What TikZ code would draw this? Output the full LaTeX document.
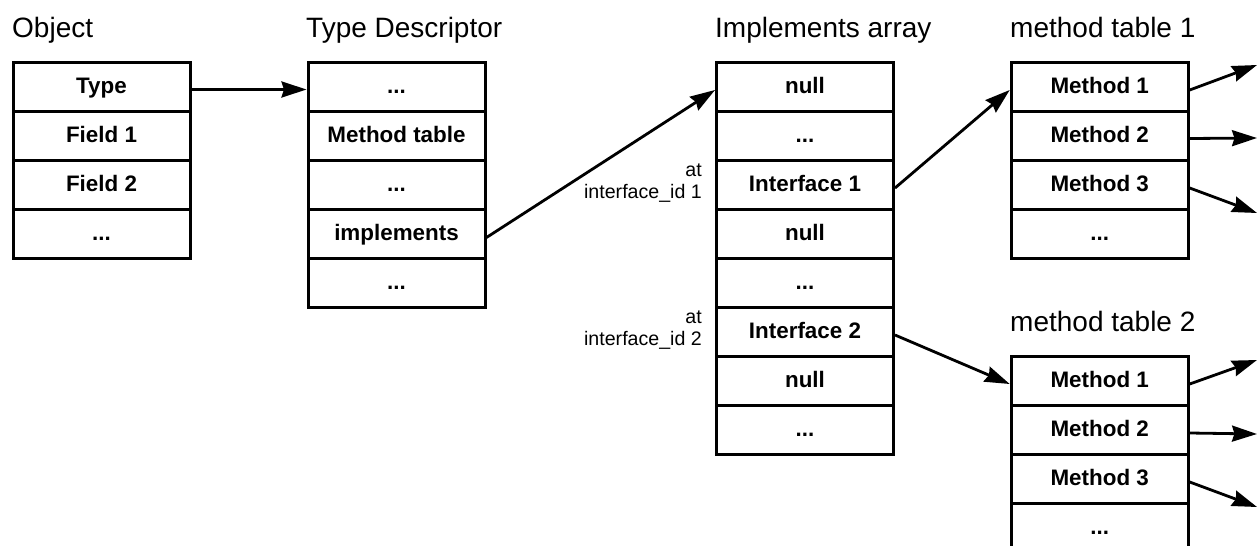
\documentclass[tikz,border=0pt]{standalone}
\usepackage{fontspec}
\setmainfont{Liberation Sans}
\usetikzlibrary{arrows.meta}
\begin{document}
\begin{tikzpicture}[x=1pt,y=-1pt,
 cell/.style={draw=black, line width=3pt, minimum width=177pt, minimum height=49pt, inner sep=0pt, text height=17pt, text depth=4pt, font=\fontsize{22.4}{26}\selectfont\bfseries},
 ttl/.style={anchor=base west, inner sep=0pt, font=\fontsize{28}{32}\selectfont},
 lbl/.style={anchor=base east, inner sep=0pt, font=\fontsize{19.6}{22}\selectfont},
 arr/.style={line width=2.8pt, -{Stealth[length=25pt,width=16pt,inset=2.5pt]}}]
\useasboundingbox (0,0) rectangle (1258,546);

% titles
\node[ttl] (tobj) at (12,37) {Object};
\node[ttl] (ttd) at (306,37) {Type Descriptor};
\node[ttl] (tia) at (715,37) {Implements array};
\node[ttl] (tm1) at (1010,37) {method table 1};
\node[ttl] (tm2) at (1010,331) {method table 2};

% Object
\node[cell] (o1) at (101.5,86.5) {Type};
\node[cell] (o2) at (101.5,135.5) {Field 1};
\node[cell] (o3) at (101.5,184.5) {Field 2};
\node[cell] (o4) at (101.5,233.5) {...};

% Type Descriptor
\node[cell] (t1) at (396.5,86.5) {...};
\node[cell] (t2) at (396.5,135.5) {Method table};
\node[cell] (t3) at (396.5,184.5) {...};
\node[cell] (t4) at (396.5,233.5) {implements};
\node[cell] (t5) at (396.5,282.5) {...};

% Implements array
\node[cell] (i1) at (805,86.5) {null};
\node[cell] (i2) at (805,135.5) {...};
\node[cell] (i3) at (805,184.5) {Interface 1};
\node[cell] (i4) at (805,233.5) {null};
\node[cell] (i5) at (805,282.5) {...};
\node[cell] (i6) at (805,331.5) {Interface 2};
\node[cell] (i7) at (805,380.5) {null};
\node[cell] (i8) at (805,429.5) {...};

% labels
\node[lbl] (l1a) at (702,176) {at};
\node[lbl] (l1b) at (702,198) {interface\_id 1};
\node[lbl] (l2a) at (702,323) {at};
\node[lbl] (l2b) at (702,345) {interface\_id 2};

% method table 1
\node[cell] (m1) at (1099.7,86.5) {Method 1};
\node[cell] (m2) at (1099.7,135.5) {Method 2};
\node[cell] (m3) at (1099.7,184.5) {Method 3};
\node[cell] (m4) at (1099.7,233.5) {...};

% method table 2
\node[cell] (n1) at (1099.7,380.5) {Method 1};
\node[cell] (n2) at (1099.7,429.5) {Method 2};
\node[cell] (n3) at (1099.7,478.5) {Method 3};
\node[cell] (n4) at (1099.7,527.5) {...};

% arrow ends
\coordinate (c1a) at (1257,65);
\coordinate (c1b) at (1257,138);
\coordinate (c1c) at (1257,213);
\coordinate (c2a) at (1257,360);
\coordinate (c2b) at (1257,434);
\coordinate (c2c) at (1257,507);

% connectors
\draw[arr] ([yshift=-3pt]o1.east) -- ([yshift=-3pt]t1.west);
\draw[arr] ([yshift=-4pt]t4.east) -- ([yshift=-3.5pt]i1.west);
\draw[arr] ([yshift=-3.5pt]i3.east) -- ([yshift=-3.5pt]m1.west);
\draw[arr] ([yshift=-3.5pt]i6.east) -- ([yshift=-3.5pt]n1.west);

\draw[arr] ([yshift=-3.5pt]m1.east) -- (c1a);
\draw[arr] ([yshift=-3pt]m2.east) -- (c1b);
\draw[arr] ([yshift=-3.5pt]m3.east) -- (c1c);
\draw[arr] ([yshift=-3.5pt]n1.east) -- (c2a);
\draw[arr] ([yshift=-3.5pt]n2.east) -- (c2b);
\draw[arr] ([yshift=-3.5pt]n3.east) -- (c2c);
\end{tikzpicture}
\end{document}
